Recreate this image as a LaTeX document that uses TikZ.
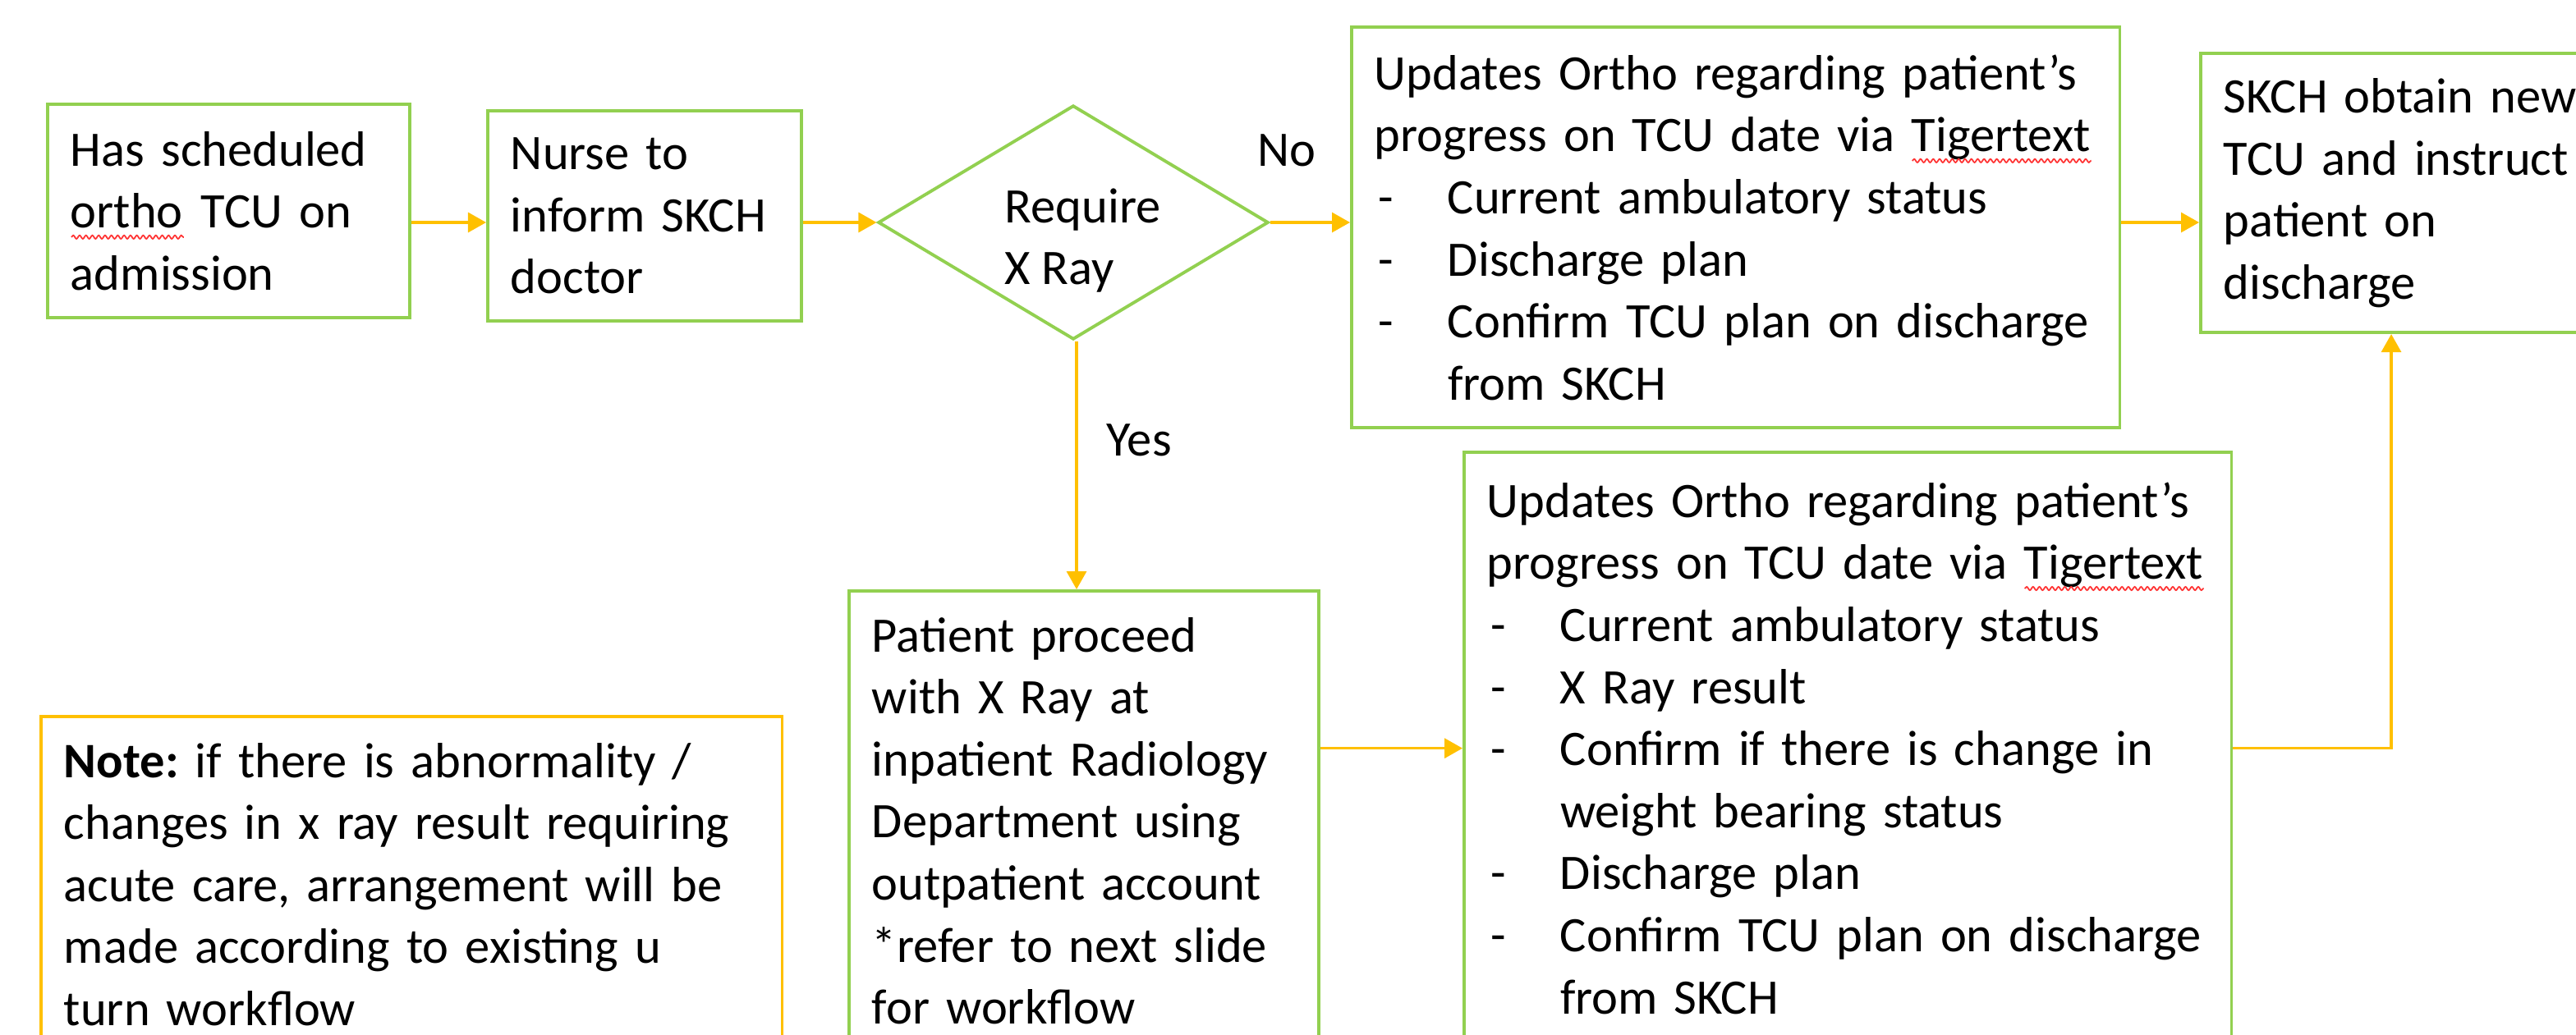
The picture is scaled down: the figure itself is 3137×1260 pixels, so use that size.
\documentclass[tikz,border=0pt]{standalone}
\usepackage{fontspec}
\setmainfont{Carlito}
\frenchspacing
\usetikzlibrary{arrows.meta,shapes.geometric,decorations.pathmorphing}
\definecolor{boxgreen}{HTML}{92D050}
\definecolor{arrowor}{HTML}{FFC000}
\newlength\swlen
\newcommand\spellwave[1]{\leavevmode\settowidth\swlen{#1}\rlap{#1}\raisebox{-4pt}[0pt][0pt]{\tikz\draw[red!80,line width=0.5pt,decorate,decoration={snake,amplitude=0.6pt,segment length=2.2pt}] (0pt,0pt) -- (\swlen,0pt);}}
\newcommand\bul[1]{\leavevmode\hspace*{0.05cm}\makebox[0.84cm][l]{-}\mbox{#1}}
\newcommand\cont{\leavevmode\hspace*{0.89cm}}
\begin{document}
\begin{tikzpicture}[x=0.01cm,y=-0.01cm,
  txt/.style={font=\fontsize{17.2}{21.5}\selectfont},
  box/.style={txt,draw=boxgreen,line width=1.1pt,fill=white,align=left,
    inner xsep=0.28cm,inner ysep=0pt,anchor=north west},
  notebox/.style={box,draw=arrowor},
  decision/.style={diamond,draw=boxgreen,line width=1.1pt,inner sep=0pt,aspect=1.667},
  arr/.style={draw=arrowor,line width=0.9pt,-{Triangle[length=0.22cm,width=0.24cm]}},
  lab/.style={txt,inner sep=0pt,anchor=base west}]
\path[use as bounding box,clip] (0,0) rectangle (3137,1260);
\fill[white] (0,0) rectangle (3137,1260);

\node[box,minimum width=4.41cm,minimum height=2.60cm,text width=3.85cm] (b1) at (56,125)
  {Has scheduled\\ \spellwave{ortho} TCU on\\ admission};
\node[box,minimum width=3.82cm,minimum height=2.56cm,text width=3.26cm] (b2) at (592,133)
  {Nurse to\\ inform SKCH\\ doctor};
\node[decision,minimum width=4.75cm,minimum height=2.85cm] (d) at (1307,271) {};
\node[txt,anchor=north west,align=left,inner sep=0pt] (dt) at (1223,229) {Require\\X Ray};
\node[box,minimum width=9.35cm,minimum height=4.88cm,text width=8.79cm] (b3) at (1644,31)
  {\mbox{Updates Ortho regarding patient’s}\\
   \mbox{progress on TCU date via \spellwave{Tigertext}}\\
   \bul{Current ambulatory status}\\
   \bul{Discharge plan}\\
   \bul{Confirm TCU plan on discharge}\\
   \cont from SKCH};
\node[box,minimum width=5.12cm,minimum height=3.40cm,text width=4.6cm] (b4) at (2678,63)
  {SKCH obtain new\\ TCU and instruct\\ patient on\\ discharge};
\node[box,minimum width=5.72cm,minimum height=5.60cm,text width=5.16cm] (b5) at (1032,718)
  {Patient proceed\\ with X Ray at\\ inpatient Radiology\\ Department using\\
   outpatient account\\ {*}refer to next slide\\ for workflow};
\node[box,minimum width=9.34cm,minimum height=7.21cm,text width=8.78cm] (b6) at (1781,549)
  {\mbox{Updates Ortho regarding patient’s}\\
   \mbox{progress on TCU date via \spellwave{Tigertext}}\\
   \bul{Current ambulatory status}\\
   \bul{X Ray result}\\
   \bul{Confirm if there is change in}\\
   \cont weight bearing status\\
   \bul{Discharge plan}\\
   \bul{Confirm TCU plan on discharge}\\
   \cont from SKCH};
\node[notebox,minimum width=9.02cm,minimum height=4.09cm,text width=8.46cm] (nt) at (48,871)
  {\textbf{Note:} if there is abnormality /\\ changes in x ray result requiring\\
   acute care, arrangement will be\\ made according to existing u\\ turn workflow};

\node[lab] (no) at (1531,202) {No};
\node[lab] (yes) at (1347,555) {Yes};

\coordinate (up) at (2912,0);
\coordinate (down) at (1311,0);
\draw[arr] (b1.east |- d.west) -- (b2.west |- d.west);
\draw[arr] (b2.east |- d.west) -- (d.west);
\draw[arr] (d.east) -- (d.east -| b3.west);
\draw[arr] (b3.east |- d.east) -- (b4.west |- d.east);
\draw[arr] (d.south -| down) -- (down |- b5.north);
\draw[arr] (b5.east |- b6.west) -- (b6.west);
\draw[arr] (b6.east) -| (up |- b4.south);
\end{tikzpicture}
\end{document}
